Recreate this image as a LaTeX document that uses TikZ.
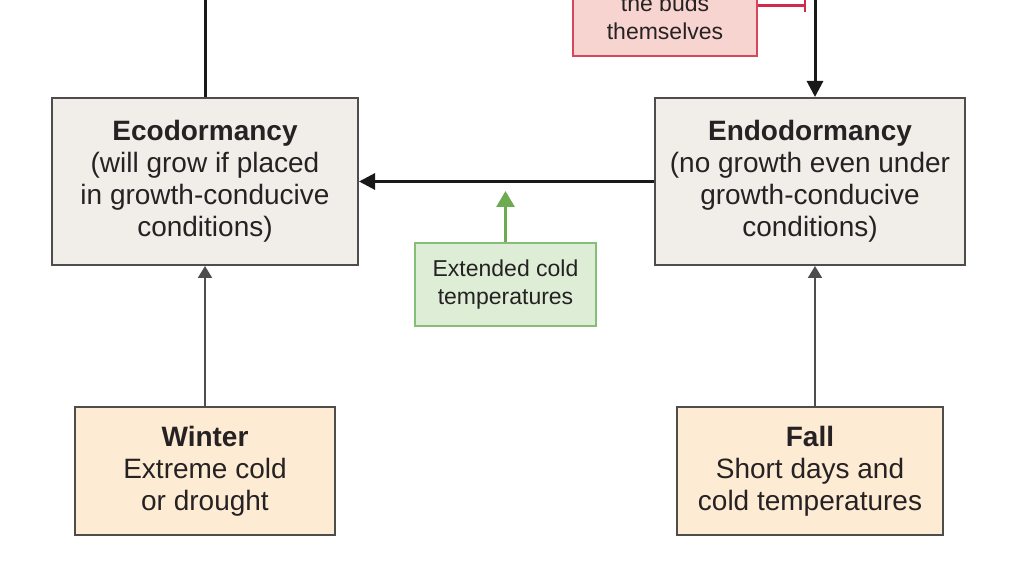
\documentclass[tikz,border=0pt]{standalone}
\usepackage{fontspec}
\setmainfont{Liberation Sans}
\usetikzlibrary{arrows.meta,positioning}
\definecolor{inkgrey}{HTML}{262223}
\definecolor{boxline}{HTML}{4F4C4C}
\definecolor{dormfill}{HTML}{F1EEEA}
\definecolor{seasonfill}{HTML}{FDEBD4}
\definecolor{coldfill}{HTML}{DDEDD6}
\definecolor{coldline}{HTML}{86BD77}
\definecolor{coldarrow}{HTML}{6DAA52}
\definecolor{budfill}{HTML}{F8D4D0}
\definecolor{budline}{HTML}{D6465D}
\definecolor{budbar}{HTML}{D22A4B}
\begin{document}
\begin{tikzpicture}[x=0.5pt,y=-0.5pt,
    every node/.style={text=inkgrey,align=center,inner sep=0pt},
    dormbox/.style={draw=boxline,line width=1pt,fill=dormfill,
        minimum height=83.5pt,font=\fontsize{14}{16}\selectfont},
    seasonbox/.style={draw=boxline,line width=1pt,fill=seasonfill,
        minimum height=64pt,font=\fontsize{14}{16}\selectfont},
    coldbox/.style={draw=coldline,line width=1pt,fill=coldfill,
        minimum width=90.5pt,minimum height=41.5pt,font=\fontsize{11.5}{14}\selectfont},
    budbox/.style={draw=budline,line width=1pt,fill=budfill,
        minimum width=92pt,inner ysep=8pt,font=\fontsize{11.5}{14}\selectfont},
    thickarrow/.style={draw=black!90,line width=1.5pt,-{Triangle[length=8pt,width=8pt]}},
    thinarrow/.style={draw=boxline,line width=1pt,-{Triangle[length=6pt,width=7pt]}},
    coldpush/.style={draw=coldarrow,line width=1.5pt,-{Triangle[length=8pt,width=9pt]}},
    budstop/.style={draw=budbar,line width=1.25pt,-{Bar[width=7pt]}}]
    \useasboundingbox (0,0) rectangle (1024,581);
    % the two dormancy states
    \node[dormbox,minimum width=153pt] (eco) at (205,181.5)
        {\textbf{Ecodormancy}\\(will grow if placed\\in growth-conducive\\conditions)};
    \node[dormbox,minimum width=155pt] (endo) at (810,181.5)
        {\textbf{Endodormancy}\\(no growth even under\\growth-conducive\\conditions)};
    % seasonal triggers
    \node[seasonbox,minimum width=130pt] (winter) at (205,471)
        {\textbf{Winter}\\Extreme cold\\or drought};
    \node[seasonbox,minimum width=133pt] (fall) at (810,471)
        {\textbf{Fall}\\Short days and\\cold temperatures};
    \node[coldbox] (cold) at (505.5,284.5) {Extended cold\\temperatures};
    \node[budbox,anchor=south] (buds) at (665,57) {the buds\\themselves};
    % connectors
    \coordinate (ecotop) at (205,-4);
    \coordinate (endotop) at (815,-4);
    \coordinate (coldtip) at (505.5,191);
    \coordinate (stopbar) at (806,5.5);
    \draw[black!90,line width=1.5pt] (ecotop) -- (eco.north);
    \draw[thickarrow] (endotop) -- (endotop |- endo.north);
    \draw[thickarrow] (endo.west) -- (eco.east);
    \draw[coldpush] (cold.north) -- (coldtip);
    \draw[thinarrow] (winter.north) -- (eco.south);
    \draw[thinarrow] (endotop |- fall.north) -- (endotop |- endo.south);
    \draw[budstop] (buds.east |- stopbar) -- (stopbar);
\end{tikzpicture}
\end{document}
